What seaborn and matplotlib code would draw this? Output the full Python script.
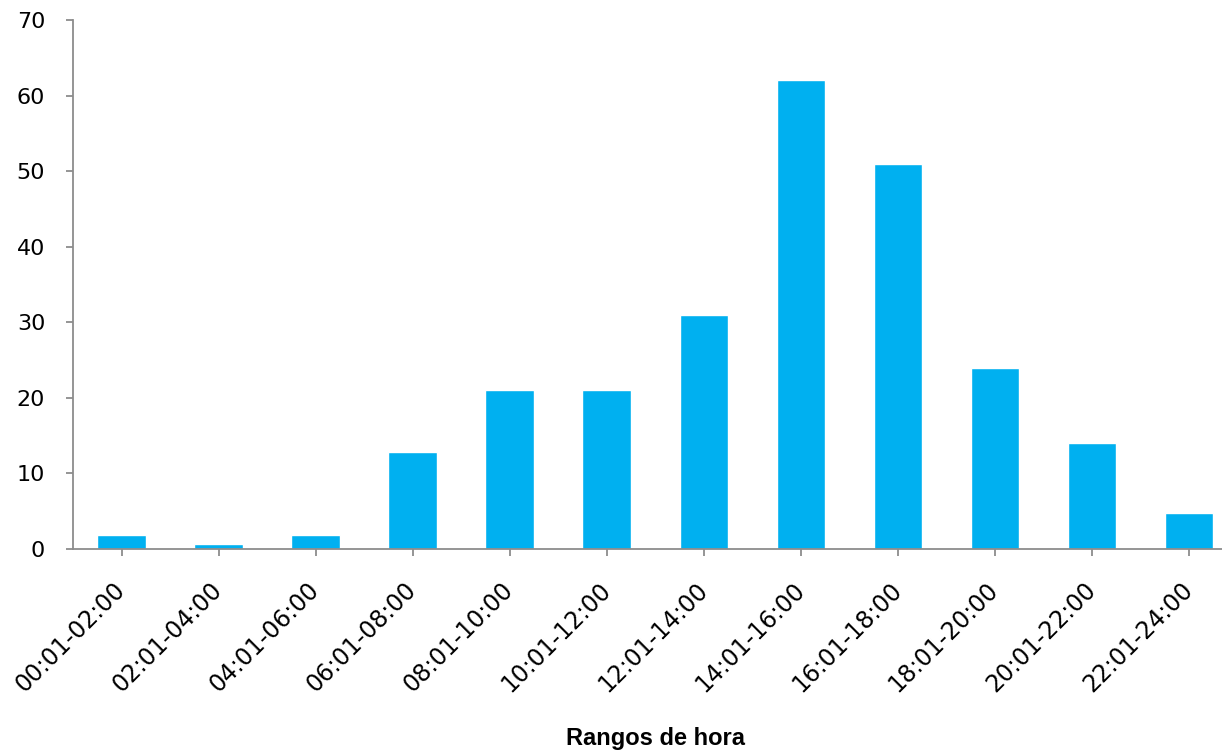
import matplotlib
matplotlib.use("Agg")
import matplotlib.pyplot as plt
import seaborn as sns
import pandas as pd

categories = ["00:01-02:00", "02:01-04:00", "04:01-06:00", "06:01-08:00",
              "08:01-10:00", "10:01-12:00", "12:01-14:00", "14:01-16:00",
              "16:01-18:00", "18:01-20:00", "20:01-22:00", "22:01-24:00"]
values = [1.9, 0.7, 1.9, 12.8, 21, 21, 31, 62, 51, 23.9, 14, 4.8]
yticks = [0, 10, 20, 30, 40, 50, 60, 70]

sns.set_theme(style="white")
plt.rcParams['font.family'] = ['DejaVu Sans']

df = pd.DataFrame({"rango": categories, "valor": values})

W, H = 1222, 756
fig = plt.figure(figsize=(W / 100, H / 100), dpi=100)
left, right, top, bottom = 73, 1237.5, 20, 549
ax = fig.add_axes([left / W, 1 - bottom / H, (right - left) / W, (bottom - top) / H])

sns.barplot(data=df, x="rango", y="valor", order=categories, color="#00B0F0",
            saturation=1, width=0.5, ax=ax)

ax.set_xlim(-0.5, len(categories) - 0.5)
ax.set_ylim(0, 70)
ax.set_yticks(yticks)
ax.set_yticklabels([str(t) for t in yticks])

for s in ["top", "right"]:
    ax.spines[s].set_visible(False)
for s in ["left", "bottom"]:
    ax.spines[s].set_color("#8c8c8c")
    ax.spines[s].set_linewidth(1.3)

ax.tick_params(axis="y", which="major", direction="out", length=5, width=1.3,
               color="#8c8c8c", labelsize=16, labelcolor="black", pad=15, left=True)
ax.tick_params(axis="x", which="major", direction="out", length=5, width=1.3,
               color="#8c8c8c", labelsize=17, labelcolor="black", pad=22, bottom=True)
for lbl in ax.get_xticklabels():
    lbl.set_rotation(45)
    lbl.set_ha("right")
    lbl.set_va("center")
    lbl.set_rotation_mode("anchor")

ax.set_ylabel("")
ax.set_xlabel("Rangos de hora", fontsize=17, fontweight="bold", color="black",
              family=["Liberation Sans", "DejaVu Sans"])
ax.xaxis.set_label_coords((656 - left) / (right - left), (bottom - 727) / (bottom - top))

fig.savefig("out.png", dpi=100)
